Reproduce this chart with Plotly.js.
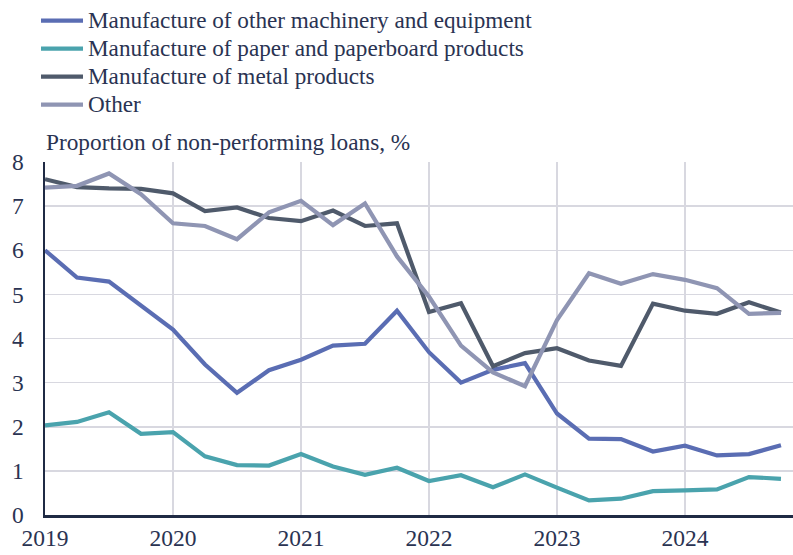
<!DOCTYPE html>
<html>
<head>
<meta charset="utf-8">
<script src="https://cdn.plot.ly/plotly-3.0.1.min.js"></script>
<style>html,body{margin:0;padding:0;background:#fff;}#chart{width:793px;height:555px;}</style>
</head>
<body>
<div id="chart"></div>
<script>
const quarters = [2019.0,2019.25,2019.5,2019.75,2020.0,2020.25,2020.5,2020.75,2021.0,2021.25,2021.5,2021.75,2022.0,2022.25,2022.5,2022.75,2023.0,2023.25,2023.5,2023.75,2024.0,2024.25,2024.5,2024.75];
const machinery = [6.0,5.38,5.29,4.73,4.2,3.41,2.77,3.28,3.52,3.84,3.88,4.63,3.69,3.0,3.29,3.44,2.30,1.73,1.72,1.44,1.57,1.35,1.38,1.58];
const paper = [2.03,2.11,2.33,1.84,1.88,1.33,1.13,1.12,1.38,1.10,0.91,1.07,0.77,0.90,0.63,0.92,0.62,0.33,0.37,0.54,0.56,0.58,0.86,0.82];
const metal = [7.61,7.43,7.40,7.39,7.29,6.89,6.97,6.73,6.66,6.90,6.55,6.61,4.60,4.80,3.37,3.67,3.78,3.50,3.38,4.79,4.63,4.56,4.82,4.59];
const other = [7.42,7.46,7.74,7.27,6.61,6.55,6.25,6.86,7.12,6.57,7.06,5.86,4.95,3.84,3.23,2.92,4.42,5.48,5.24,5.46,5.33,5.14,4.56,4.58];
const seriesNames = ["Manufacture of other machinery and equipment","Manufacture of paper and paperboard products","Manufacture of metal products","Other"];
const yearTicks = [2019,2020,2021,2022,2023,2024];
const yearLabels = ["2019","2020","2021","2022","2023","2024"];
const yTicks = [0,1,2,3,4,5,6,7,8];
const yAxisTitle = "Proportion of non-performing loans, %";

const colors = ["#5a6db3","#4aa3ad","#4f5a6b","#8f95b3"];
const values = [machinery, paper, metal, other];
const traces = values.map((v,i)=>({
  x: quarters, y: v, type:"scatter", mode:"lines",
  name: '<span style="font-size:23.2px">' + seriesNames[i] + '</span>',
  line:{color:colors[i], width:4.2}, hoverinfo:"skip"
}));
const font = "Liberation Serif, Times New Roman, serif";
const txt = "#2a3352";
const layout = {
  width:793, height:555,
  margin:{l:45, r:0, t:162, b:40, pad:0, autoexpand:false},
  paper_bgcolor:"#fff", plot_bgcolor:"#fff",
  font:{family:font, color:txt, size:21},
  showlegend:true,
  legend:{x:0.0454, y:0.997, xref:"container", yref:"container", xanchor:"left", yanchor:"top",
    font:{family:font, size:19.2, color:txt}, bgcolor:"rgba(0,0,0,0)", tracegroupgap:0, itemwidth:42},
  xaxis:{range:[2019,2024.844], tickvals:yearTicks, ticktext:yearLabels, showgrid:true,
    gridcolor:"#d8d8e0", gridwidth:1.5, zeroline:false, showline:true, linecolor:"#1f2a44", linewidth:2.5,
    ticks:"", tickfont:{family:font, size:23.5, color:txt}, fixedrange:true},
  yaxis:{range:[0,8], tickvals:yTicks, showgrid:true, gridcolor:"#d8d8e0", gridwidth:1.5, zeroline:false,
    showline:true, linecolor:"#1f2a44", linewidth:2.5, ticks:"", ticklabelstandoff:14,
    tickfont:{family:font, size:23.5, color:txt}, fixedrange:true},
  annotations:[{text:yAxisTitle, xref:"paper", yref:"paper", x:0, y:1, xanchor:"left", yanchor:"bottom",
    yshift:5, xshift:-1, showarrow:false, font:{family:font, size:23.3, color:txt}}]
};
Plotly.newPlot("chart", traces, layout, {staticPlot:true, displayModeBar:false});
</script>
</body>
</html>
